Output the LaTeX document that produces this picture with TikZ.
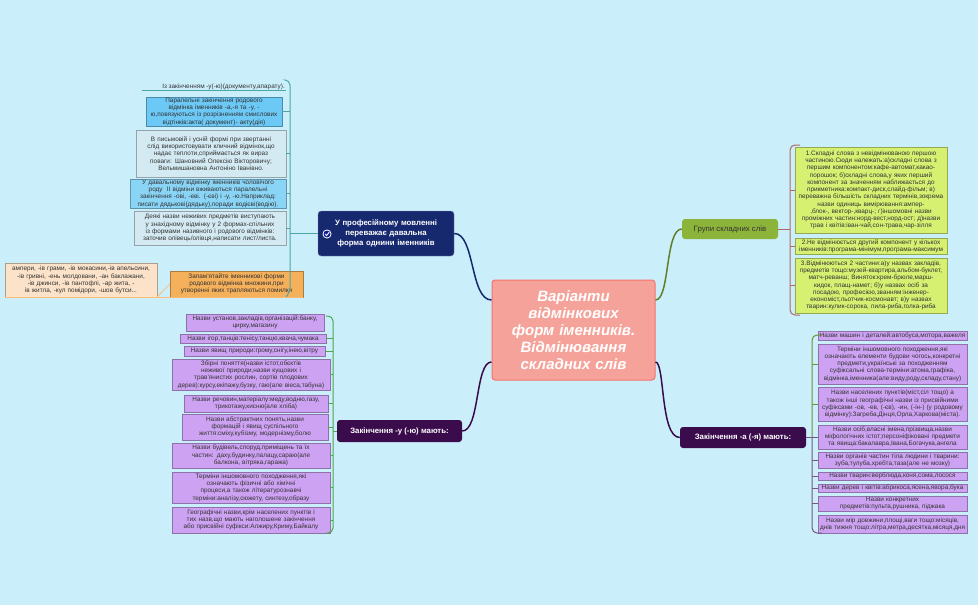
\documentclass[tikz,border=0pt]{standalone}
\usepackage{fontspec}
\setmainfont{Liberation Sans}
\usetikzlibrary{calc}
\definecolor{bg}{HTML}{CBEEFB}
\definecolor{navy}{HTML}{16286E}
\definecolor{dpurp}{HTML}{3A0C4C}
\definecolor{lpurp}{HTML}{CDA2F2}
\definecolor{ygreen}{HTML}{D6F072}
\definecolor{olive}{HTML}{8DB43A}
\definecolor{sblue}{HTML}{6CC8F4}
\definecolor{sblueb}{HTML}{8AD4F6}
\definecolor{pblue}{HTML}{D4EAF2}
\definecolor{orng}{HTML}{F5B05C}
\definecolor{peach}{HTML}{FBE2C8}
\definecolor{salmon}{HTML}{F5A39A}
\newcommand{\lffont}{\fontsize{6.4}{7.25}\selectfont\spaceskip 1.6pt plus 1pt minus 0.5pt\relax}
\tikzset{
 lf/.style={draw=#1!70!black,line width=0.4pt,inner sep=0.3pt,align=center,font=\lffont,text=black!80},
 mn/.style={rounded corners=3pt,inner sep=3pt,align=center,font=\bfseries\fontsize{7.8}{10}\selectfont,text=white},
 br/.style={line width=1pt,rounded corners=5pt},
}
\newcommand{\bx}[7]{% name, x1,y1,x2,y2, color, text
 \node[lf=#6,fill=#6,minimum width=#4-#2,minimum height=#5-#3,text width=#4-#2-0.6pt] (#1) at ({(#2+#4)/2},{(#3+#5)/2}) {#7};}
\begin{document}
\begin{tikzpicture}[x=1pt,y=-1pt]
\fill[bg] (0,0) rectangle (978,605);
\useasboundingbox (0,0) rectangle (978,605);
% centre
\node[fill=salmon,draw=salmon!70!red,line width=1pt,rounded corners=3pt,minimum width=163pt,minimum height=100pt,text width=140pt,align=center,text=white,font=\bfseries\itshape\fontsize{15}{17}\selectfont] (c) at (573.5,330) {Варіанти відмінкових форм іменників. Відмінювання складних слів};
% main nodes
\node[mn,fill=navy,draw=navy!50,minimum width=136pt,minimum height=45pt,text width=118pt] (m1) at (386,233.5) {У професійному мовленні переважає давальна форма однини іменників};
\fill[white] (327,234) circle (4.5pt); \fill[navy!70!blue] (327,234) circle (3.5pt);
\draw[white,line width=0.9pt] (325.2,234) -- (326.6,235.6) -- (329.2,232.2);
\node[mn,fill=dpurp,minimum width=125pt,minimum height=22pt] (m2) at (399.5,431) {Закінчення -у (-ю) мають:};
\node[mn,fill=olive,text=black!80,font=\fontsize{7.8}{10}\selectfont,minimum width=96pt,minimum height=20pt] (m3) at (730,229) {Групи складних слів};
\node[mn,fill=dpurp,minimum width=126pt,minimum height=21pt] (m4) at (743,437.5) {Закінчення -а (-я) мають:};
\draw[navy,line width=1.5pt] (c.west|-0,300) .. controls (470,300) and (475,233) .. (m1.east);
\draw[dpurp,line width=1.5pt] (c.west|-0,362) .. controls (475,362) and (480,431) .. (m2.east);
\draw[olive!70!black,line width=1.5pt] (c.east|-0,300) .. controls (670,300) and (665,229) .. (m3.west);
\draw[dpurp,line width=1.5pt] (c.east|-0,362) .. controls (665,362) and (660,437.5) .. (m4.west);
% ---- top-left group
\node[font=\lffont,text=black!80,inner sep=1pt,anchor=east] (a1) at (286,86.5) {Із закінченням -у(-ю)(документу,апарату).};
\draw[teal!70] (142,90.5) -- (286,90.5);
\bx{a2}{146}{97}{282}{126}{sblue}{Паралельні закінчення родового відмінка іменників -а,-я та -у, -ю,повязуються із розрізненням смислових відтінків:акта( документ)- акту(дія)}
\bx{a3}{136}{130}{286}{177}{pblue}{В письмовій і усній формі при звертанні слід використовувати кличний відмінок,що надає теплоти,сприймається як вираз поваги: Шановний Олексію Вікторовичу; Вельмишановна Антоніно Іванівно.}
\bx{a4}{130}{179}{286}{208}{sblueb}{У давальному відмінку іменників чоловічого роду \ ІІ відміни вживаються паралельні закінчення -ові, -еві. (-єві) і -у, -ю.Наприклад: писати дядькові(дядьку),поради водієві(водію).}
\bx{a5}{134}{211}{286}{245}{pblue}{Деякі назви неживих предметів виступають у знахідному відмінку у 2 формах-спільних із формами називного і родового відмінків: заточив олівець/олівця,написати лист/листа.}
\bx{a6}{170}{271}{303}{297}{orng}{Запам'ятайте іменникові форми родового відмінка множини,при утворенні яких трапляються помилки}
\bx{a7}{5}{263}{157}{297}{peach}{ампери, -ів грами, -ів мокасини,-ів апельсини, -ів гривні, -ень молдовани, -ан баклажани, -ів джинси, -ів пантофлі, -ар жита, -ів житла, -кул помідори, -шов бутси...}
\draw[teal!70,br] (286,80) -- (290,80) -- (290,292) -- (286,297);
\draw[teal!70,line width=1pt] (290,233.5) -- (m1.west);
\foreach \n in {a2,a3,a4,a5} \draw[teal!70] (\n.east) -- (290,0|-\n.east);
\draw[peach!60!orange,line width=0.8pt] (a6.west) -- (157,297) (5,297.5) -- (303,297.5);
% ---- bottom-left group
\bx{b1}{186}{314}{324}{331}{lpurp}{Назви установ,закладів,організацій:банку, цирку,магазину}
\bx{b2}{180}{334}{326}{343}{lpurp}{Назви ігор,танців:тенісу,танцю,квача,чумака}
\bx{b3}{184}{346}{325}{356}{lpurp}{Назви явищ природи:грому,снігу,інею,вітру}
\bx{b4}{172}{359}{330}{390}{lpurp}{Збірні поняття(назви істот,обєктів неживої природи,назви кущових і трав'янистих рослин, сортів плодових дерев):курсу,екіпажу,бузку, гаю(але віеса,табуна)}
\bx{b5}{184}{395}{328}{412}{lpurp}{Назви речовин,матеріалу:меду,водню,газу, трикотажу,кисню(але хліба)}
\bx{b6}{182}{414}{328}{440}{lpurp}{Назви абстрактних понять,назви формацій і явищ суспільного життя:сміху,кубізму, модернізму,болю}
\bx{b7}{172}{443}{330}{468}{lpurp}{Назви будівель,споруд,приміщень та їх частин: даху,будинку,палацу,сараю(але балкона, вітряка,гаража)}
\bx{b8}{172}{472}{330}{503}{lpurp}{Терміни іншомовного походження,які означають фізичні або хімічні процеси,а також літературознавчі терміни:аналізу,сюжету, синтезу,образу}
\bx{b9}{172}{507}{330}{533}{lpurp}{Географічні назви,крім населених пунктів і тих назв,що мають наголошене закінчення або присвійні суфікси:Алжиру,Криму,Байкалу}
\draw[green!50!black!70,br] (326,316) -- (333,316) -- (333,533) -- (326,533);
\draw[green!50!black!70,line width=1pt] (333,431) -- (m2.west);
\foreach \n in {b2,b3,b4,b5,b6,b7,b8,b9} \draw[green!50!black!70] (\n.east) -- (333,0|-\n.east);
% ---- right-top group
\bx{r1}{795}{147}{947}{233}{ygreen}{1.Складні слова з невідмінюваною першою частиною.Сюди належать:а)складні слова з першим компонентом:кафе-автомат,какао-порошок; б)складні слова,у яких перший компонент за значенням наближається до прикметника:компакт-диск,слайд-фільм; в) переважна більшість складних термінів,зокрема назви одиниць вимірювання:ампер-,блок-, вектор-,кварц-; г)іншомовні назви проміжних частин:норд-вест,норд-ост; д)назви трав і квітів:іван-чай,сон-трава,чар-зілля}
\bx{r2}{795}{238}{947}{254}{ygreen}{2.Не відмінюється другий компонент у кількох іменників:програма-мінімум,програма-максимум}
\bx{r3}{795}{258}{947}{313}{ygreen}{3.Відмінюються 2 частини:а)у назвах закладів, предметів тощо:музей-квартира,альбом-буклет, матч-реванш; Виняток:крем-брюле,марш-кидок, плащ-намет; б)у назвах осіб за посадою, професією,званням:інженер-економіст,льотчик-космонавт; в)у назвах тварин:кулик-сорока, пила-риба,голка-риба}
\draw[red!50!black!60,br] (800,145) -- (790,145) -- (790,315) -- (800,315);
\draw[red!50!black!60,line width=1pt] (m3.east) -- (790,229);
\foreach \n in {r1,r2,r3} \draw[red!50!black!60] (790,0|-\n.west) -- (\n.west);
% ---- right-bottom group
\bx{s1}{818}{331}{967}{340}{lpurp}{Назви машин і деталей:автобуса,мотора,важеля}
\bx{s2}{818}{344}{967}{384}{lpurp}{Терміни іншомовного походження,які означають елементи будови чогось,конкретні предмети,українські за походженням суфіксальні слова-терміни:атома,графіка, відмінка,іменника(але:виду,роду,складу,стану)}
\bx{s3}{818}{387}{967}{421}{lpurp}{Назви населених пунктів(міст,сіл тощо) а також інші географічні назви із присвійними суфіксами -ов, -ев, (-єв), -ин, (-ін-) (у родовому відмінку):Загреба,Дінця,Орла,Харкова(міста).}
\bx{s4}{818}{425}{967}{449}{lpurp}{Назви осіб,власні імена,прізвища,назви міфологічних істот;персоніфіковані предмети та явища:бакалавра,Івана,Богачука,ангела}
\bx{s5}{818}{452}{967}{468}{lpurp}{Назви органів частин тіла людини і тварини: зуба,тулуба,хребта,таза(але не мозку)}
\bx{s6}{818}{472}{967}{480}{lpurp}{Назви тварин:верблюда,коня,сома,лосося}
\bx{s7}{818}{484}{967}{492}{lpurp}{Назви дерев і квітів:абрикоса,ясена,явора,бука}
\bx{s8}{818}{496}{967}{511}{lpurp}{Назви конкретних предметів:пульта,рушника, піджака}
\bx{s9}{818}{515}{967}{533}{lpurp}{Назви мір довжини,площі,ваги тощо:місяців, днів тижня тощо:літра,метра,десятка,місяця,дня}
\draw[olive!80!black,br] (822,335) -- (812,335) -- (812,437.5);
\draw[dpurp!70,br] (812,437.5) -- (812,533) -- (822,533);
\draw[dpurp!70,line width=1pt] (m4.east) -- (812,437.5);
\foreach \n in {s2,s3} \draw[olive!80!black] (812,0|-\n.west) -- (\n.west);
\foreach \n in {s4,s5,s6,s7,s8} \draw[dpurp!70] (812,0|-\n.west) -- (\n.west);
\end{tikzpicture}
\end{document}
